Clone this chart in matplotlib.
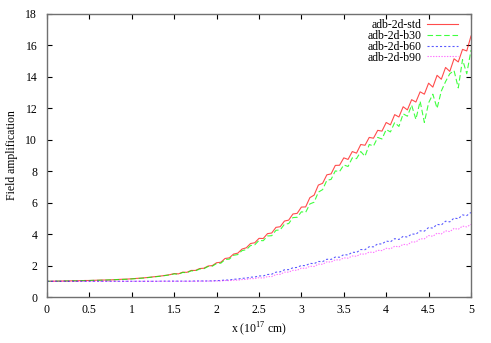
import matplotlib
matplotlib.use('Agg')
import matplotlib.pyplot as plt

x = [i * 0.05 for i in range(101)]

# adb-2d-std
std = [1.00, 1.00, 1.01, 1.01, 1.02, 1.02, 1.03, 1.03, 1.04, 1.05,
       1.05, 1.06, 1.07, 1.08, 1.08, 1.09, 1.10, 1.12, 1.13, 1.14,
       1.16, 1.18, 1.20, 1.22, 1.25, 1.28, 1.31, 1.34, 1.38, 1.42,
       1.49, 1.47, 1.58, 1.57, 1.69, 1.69, 1.81, 1.83, 1.97, 2.00,
       2.18, 2.21, 2.45, 2.49, 2.73, 2.79, 3.05, 3.13, 3.40, 3.45,
       3.73, 3.72, 4.03, 4.07, 4.43, 4.47, 4.83, 4.89, 5.28, 5.32,
       5.72, 5.73, 6.32, 6.48, 7.12, 7.23, 7.77, 7.83, 8.37, 8.38,
       8.85, 8.75, 9.25, 9.15, 9.70, 9.65, 10.15, 10.10, 10.60, 10.55,
       11.10, 10.95, 11.60, 11.45, 12.10, 11.90, 12.55, 12.40, 13.05, 12.90,
       13.60, 13.35, 14.10, 13.85, 14.60, 14.35, 15.15, 14.95, 15.75, 15.65,
       16.60]

# adb-2d-b30
b30 = [1.00, 1.00, 1.01, 1.01, 1.02, 1.02, 1.03, 1.03, 1.04, 1.04,
       1.05, 1.06, 1.06, 1.07, 1.08, 1.09, 1.10, 1.11, 1.12, 1.13,
       1.15, 1.17, 1.19, 1.21, 1.24, 1.27, 1.30, 1.33, 1.37, 1.41,
       1.47, 1.45, 1.56, 1.55, 1.66, 1.66, 1.78, 1.80, 1.94, 1.96,
       2.13, 2.15, 2.38, 2.41, 2.65, 2.70, 2.95, 3.01, 3.27, 3.32,
       3.60, 3.58, 3.88, 3.90, 4.24, 4.27, 4.63, 4.67, 5.05, 5.07,
       5.42, 5.38, 5.92, 6.03, 6.67, 6.83, 7.42, 7.48, 8.02, 7.98,
       8.40, 8.30, 8.85, 8.80, 9.25, 8.95, 9.70, 9.60, 10.15, 10.05,
       10.65, 10.50, 11.10, 10.85, 11.65, 11.50, 12.20, 11.30, 12.45, 11.10,
       12.35, 12.90, 12.00, 13.10, 13.70, 14.20, 14.40, 13.30, 15.10, 14.20,
       15.70]

# adb-2d-b60
b60 = [1.00, 1.00, 1.00, 1.00, 1.00, 1.00, 1.00, 1.00, 1.00, 1.00,
       1.00, 1.00, 1.00, 1.00, 1.00, 1.00, 1.00, 1.00, 1.00, 1.00,
       1.00, 1.00, 1.00, 1.00, 1.00, 1.00, 1.00, 1.01, 1.01, 1.01,
       1.01, 1.01, 1.01, 1.01, 1.01, 1.02, 1.02, 1.02, 1.02, 1.03,
       1.04, 1.05, 1.08, 1.08, 1.13, 1.14, 1.19, 1.20, 1.26, 1.27,
       1.34, 1.34, 1.43, 1.45, 1.58, 1.60, 1.73, 1.74, 1.86, 1.88,
       2.01, 1.99, 2.14, 2.12, 2.26, 2.25, 2.40, 2.39, 2.54, 2.53,
       2.70, 2.67, 2.85, 2.83, 3.02, 3.01, 3.20, 3.19, 3.38, 3.37,
       3.56, 3.51, 3.71, 3.66, 3.86, 3.81, 4.01, 3.99, 4.21, 4.19,
       4.42, 4.38, 4.62, 4.58, 4.82, 4.78, 5.02, 4.98, 5.22, 5.18,
       5.38]

# adb-2d-b90
b90 = [1.00, 1.00, 1.00, 1.00, 1.00, 1.00, 1.00, 1.00, 1.00, 1.00,
       1.00, 1.00, 1.00, 1.00, 1.00, 1.00, 1.00, 1.00, 1.00, 1.00,
       1.00, 1.00, 1.00, 1.00, 1.00, 1.00, 1.00, 1.00, 1.00, 1.00,
       1.00, 1.00, 1.00, 1.00, 1.00, 1.00, 1.01, 1.01, 1.01, 1.01,
       1.02, 1.02, 1.05, 1.04, 1.07, 1.07, 1.11, 1.12, 1.17, 1.17,
       1.23, 1.20, 1.30, 1.30, 1.43, 1.44, 1.58, 1.58, 1.70, 1.70,
       1.84, 1.82, 1.96, 1.94, 2.09, 2.08, 2.24, 2.22, 2.37, 2.35,
       2.49, 2.47, 2.61, 2.59, 2.74, 2.72, 2.86, 2.83, 2.97, 2.95,
       3.10, 3.06, 3.23, 3.19, 3.35, 3.32, 3.50, 3.50, 3.70, 3.70,
       3.91, 3.86, 4.06, 4.01, 4.21, 4.16, 4.36, 4.31, 4.51, 4.46,
       4.62]

labels = ['adb-2d-std', 'adb-2d-b30', 'adb-2d-b60', 'adb-2d-b90']
xticks = [0, 0.5, 1, 1.5, 2, 2.5, 3, 3.5, 4, 4.5, 5]
xticklabels = ['0', '0.5', '1', '1.5', '2', '2.5', '3', '3.5', '4', '4.5', '5']
yticks = [0, 2, 4, 6, 8, 10, 12, 14, 16, 18]

plt.rcParams['font.family'] = ['Liberation Serif', 'DejaVu Serif']
plt.rcParams['mathtext.fontset'] = 'custom'
plt.rcParams['mathtext.rm'] = 'Liberation Serif'
plt.rcParams['lines.scale_dashes'] = False

fs = 8.5
fig = plt.figure(figsize=(4.91, 3.43), dpi=100)
ax = fig.add_axes([47 / 491, 46 / 343, 424 / 491, 283 / 343])

ax.plot(x, std, color='#ff0000', lw=0.8, alpha=0.7, label=labels[0])
ax.plot(x, b30, color='#00ff00', lw=0.8, alpha=0.75, dashes=(4, 2), label=labels[1])
ax.plot(x, b60, color='#0000ff', lw=0.8, alpha=0.65, dashes=(1.5, 1.5), label=labels[2])
ax.plot(x, b90, color='#ff00ff', lw=0.8, alpha=0.55, dashes=(1, 1), label=labels[3])

ax.set_xlim(0, 5)
ax.set_ylim(0, 18)
ax.set_xticks(xticks)
ax.set_xticklabels(xticklabels)
ax.set_yticks(yticks)
ax.tick_params(direction='in', length=3.5, width=0.8, top=True, right=True,
               labelsize=fs)
ax.tick_params(axis='x', pad=5)
ax.tick_params(axis='y', pad=7)
for s in ax.spines.values():
    s.set_color('#707070')
    s.set_linewidth(1.0)

ax.set_xlabel('x (10$^{17}$ cm)', fontsize=fs, labelpad=3)
ax.set_ylabel('Field amplification', fontsize=fs, labelpad=5)

ax.legend(loc='upper right', bbox_to_anchor=(0.969, 0.982), frameon=False,
          markerfirst=False, fontsize=fs, handlelength=2.6, handletextpad=0.5,
          labelspacing=-0.1, borderaxespad=0, borderpad=0)

fig.savefig('out.png', dpi=100)
